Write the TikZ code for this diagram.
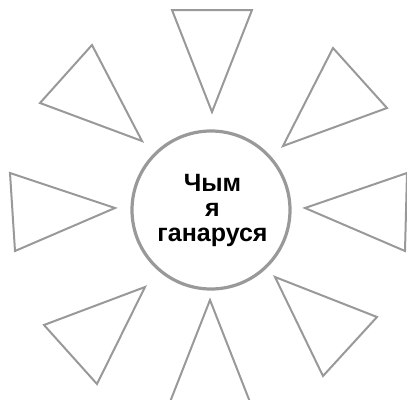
\documentclass[tikz,border=0pt]{standalone}
\usepackage{fontspec}
\setmainfont{Liberation Sans}
\definecolor{linegray}{HTML}{999999}
\tikzset{
  tri/.style={draw=linegray, line width=2pt, line join=miter},
  ring/.style={circle, draw=linegray, line width=3.2pt, minimum size=158pt, inner sep=0pt},
  label/.style={align=center, font=\fontsize{25}{25}\selectfont\bfseries, inner sep=0pt}
}
\begin{document}
\begin{tikzpicture}[x=1pt,y=-1pt]
\useasboundingbox (0,0) rectangle (407,399);
\clip (0,0) rectangle (407,399);
% circle and label
\node[ring] (c) at (211,210) {};
\node[label] (t) at (212.5,210.3) {Чым\\я\\ганаруся};
% triangles
\draw[tri] (172,10) -- (252,10) -- (212,112) -- cycle;
\draw[tri] (333,48) -- (387,108) -- (283,146) -- cycle;
\draw[tri] (407,173) -- (405,251) -- (305,208) -- cycle;
\draw[tri] (275,277) -- (377,317) -- (323,376) -- cycle;
\draw[tri] (210,300) -- (250,402) -- (170,402) -- cycle;
\draw[tri] (145,287) -- (44,325) -- (97,384) -- cycle;
\draw[tri] (10,173) -- (15,251) -- (115,208) -- cycle;
\draw[tri] (92,45) -- (40,103) -- (142,141) -- cycle;
\end{tikzpicture}
\end{document}
